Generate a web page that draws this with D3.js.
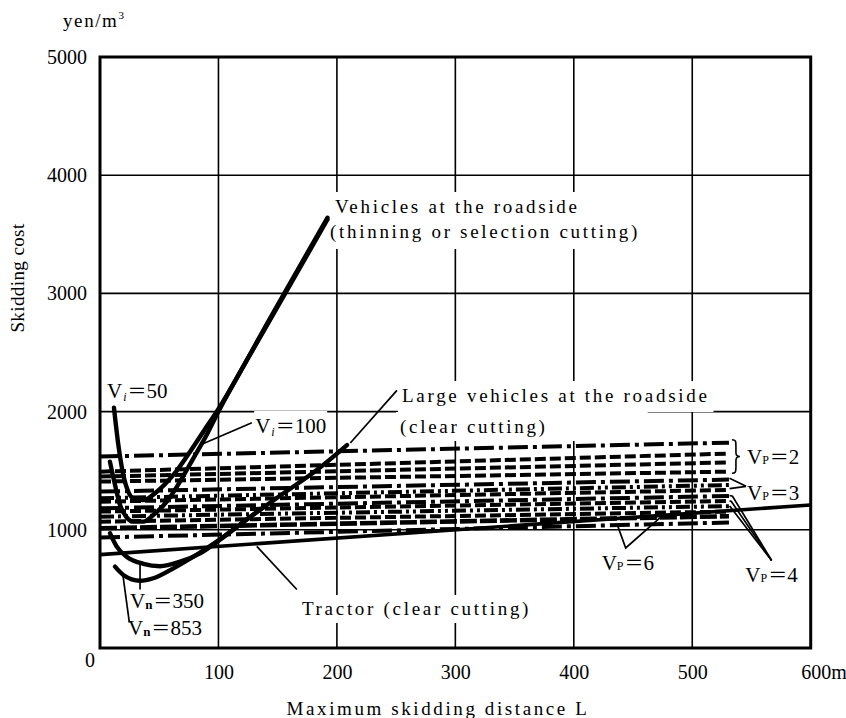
<!DOCTYPE html>
<html>
<head>
<meta charset="utf-8">
<script src="https://cdn.jsdelivr.net/npm/d3@7"></script>
<style>
  body { margin: 0; background: #fff; }
  svg { display: block; }
  text { font-family: "Liberation Serif", "DejaVu Serif", serif; fill: #000; }
</style>
</head>
<body>
<svg id="chart" width="846" height="718"></svg>
<script>
// ---- axes ----
const xDomain = [0, 600];              // maximum skidding distance L (m)
const yDomain = [0, 5000];             // skidding cost (yen/m3)
const xGrid = [100, 200, 300, 400, 500];
const yGrid = [1000, 2000, 3000, 4000];
const xTickValues = [100, 200, 300, 400, 500, 600];
const xTickLabels = ["100", "200", "300", "400", "500", "600m"];
const yTickValues = [1000, 2000, 3000, 4000, 5000];

// ---- vehicles at the roadside (thinning or selection cutting) ----
const vi50 = [[11.8, 2033], [15.5, 1717], [19.7, 1464], [23.9, 1322], [28.1, 1266], [36.6, 1252],
              [47.9, 1322], [61.9, 1464], [76, 1661], [87.2, 1830], [98.5, 1999], [145, 2815], [192, 3640]];
const vi100 = [[8.4, 1576], [12.7, 1379], [16.9, 1210], [21.1, 1125], [28.1, 1069], [36.6, 1069],
               [45, 1125], [56.3, 1238], [67.5, 1407], [78.8, 1605], [90, 1802], [98.5, 1971], [145, 2800], [192, 3625]];

// ---- large vehicles at the roadside (clear cutting) ----
const vn350 = [[8.5, 970], [14, 860], [22.5, 772], [36.6, 712], [50.7, 692], [67.6, 730], [84.5, 801],
               [101, 914], [127, 1111], [155, 1309], [183, 1506], [208.5, 1717]];
const vn853 = [[12.7, 688], [19.7, 618], [33.8, 569], [45, 590], [62, 674], [84.5, 808], [101, 918], [127, 1111], [140, 1205]];

// ---- tractor (clear cutting) ----
const tractor = [[0, 790], [600, 1210]];

// ---- cable / Vp lines: cost at L = 0 and at the end of the line ----
const vpEndL = 531;
const vpStart = [1620, 1492, 1450, 1408, 1323, 1267, 1238, 1182, 1154, 1111, 1069, 1013, 935];
const vpEnd   = [1737, 1645, 1570, 1492, 1425, 1379, 1337, 1286, 1244, 1200, 1154, 1115, 1062];
const vpLevel = [2, 2, 2, 2, 3, 3, 3, 4, 4, 4, 6, 6, 6];
const vpStyle = ["dashdot", "dash", "dash", "dash", "dashdot", "dashdotdot", "dash",
                 "dashdot", "dash", "dashdotdot", "dash", "longdash", "dashdot"];

// ---- leader lines (data units) ----
const leaders = [
  [[84.5, 1717], [128.2, 1905]],                 // Vi=100
  [[211.3, 1734], [250.7, 2180]],                // large vehicles
  [[132.4, 860], [166.2, 495]],                  // tractor
  [[33.8, 712], [33.8, 495]],                    // Vn=350
  [[19.4, 612], [24.8, 215]],                    // Vn=853
  [[437, 1035], [443.8, 846], [473.4, 1108]],    // Vp=6
  [[531.5, 1436], [545.4, 1368]],                // Vp=3
  [[531.5, 1348], [545.4, 1368]],
  [[531.5, 1290], [534, 1284], [567, 740]],      // Vp=4
  [[531.5, 1246], [533, 1240], [567, 740]],
  [[531.5, 1202], [532, 1196], [567, 740]]
];
const vp2Brace = { L: 533.5, top: 1762, bottom: 1478 };

const svg = d3.select("#chart");
const x = d3.scaleLinear().domain(xDomain).range([100, 810.7]);
const y = d3.scaleLinear().domain(yDomain).range([648, 57]);

const dashes = {
  dash: "11,4",
  longdash: "17,3",
  dashdot: "20,5,4,5",
  dashdotdot: "14,4,3,4,3,4"
};

// grid
const grid = svg.append("g").attr("stroke", "#000").attr("stroke-width", 1.6);
grid.selectAll("line.gx").data(xGrid).join("line")
  .attr("x1", d => x(d)).attr("x2", d => x(d))
  .attr("y1", y(0)).attr("y2", y(5000));
grid.selectAll("line.gy").data(yGrid).join("line")
  .attr("y1", d => y(d)).attr("y2", d => y(d))
  .attr("x1", x(0)).attr("x2", x(600));

// label backgrounds sit above the grid, below the curves
const bgLayer = svg.append("g");
const markLayer = svg.append("g");
const textLayer = svg.append("g");

// Vp lines
markLayer.selectAll("line.vp").data(vpStart).join("line")
  .attr("x1", x(0)).attr("y1", d => y(d))
  .attr("x2", x(vpEndL)).attr("y2", (d, i) => y(vpEnd[i]))
  .attr("stroke", "#000")
  .attr("stroke-width", (d, i) => vpStyle[i] === "longdash" ? 4.6 : 4)
  .attr("stroke-dasharray", (d, i) => dashes[vpStyle[i]]);

// tractor
markLayer.append("path").datum(tractor)
  .attr("d", d3.line().x(d => x(d[0])).y(d => y(d[1])))
  .attr("fill", "none").attr("stroke", "#000").attr("stroke-width", 3.6);

// curves
const curve = d3.line().x(d => x(d[0])).y(d => y(d[1])).curve(d3.curveMonotoneX);
[vi50, vi100, vn350, vn853].forEach(s => {
  markLayer.append("path").datum(s).attr("d", curve)
    .attr("fill", "none").attr("stroke", "#000").attr("stroke-width", 4.4)
    .attr("stroke-linecap", "round");
});

// leaders
const straight = d3.line().x(d => x(d[0])).y(d => y(d[1]));
markLayer.selectAll("path.leader").data(leaders).join("path")
  .attr("d", straight).attr("fill", "none")
  .attr("stroke", "#000").attr("stroke-width", 1.7).attr("stroke-linejoin", "miter");

// brace for Vp = 2
{
  const bx = x(vp2Brace.L), t = y(vp2Brace.top), b = y(vp2Brace.bottom), m = (t + b) / 2;
  markLayer.append("path")
    .attr("d", `M${bx},${t} C${bx + 4},${t} ${bx + 4},${t + 2} ${bx + 4},${t + 6} L${bx + 4},${m - 4}
      C${bx + 4},${m - 1} ${bx + 6},${m} ${bx + 8},${m} C${bx + 6},${m} ${bx + 4},${m + 1} ${bx + 4},${m + 4}
      L${bx + 4},${b - 6} C${bx + 4},${b - 2} ${bx + 4},${b} ${bx},${b}`)
    .attr("fill", "none").attr("stroke", "#000").attr("stroke-width", 1.6);
}

// frame
svg.append("rect")
  .attr("x", x(0)).attr("y", y(5000))
  .attr("width", x(600) - x(0)).attr("height", y(0) - y(5000))
  .attr("fill", "none").attr("stroke", "#000").attr("stroke-width", 3);

// axis tick labels
const xAxis = svg.append("g").attr("transform", `translate(0,${y(0)})`)
  .call(d3.axisBottom(x).tickValues(xTickValues).tickSize(0).tickPadding(17)
    .tickFormat((d, i) => xTickLabels[i]));
xAxis.select(".domain").remove();
xAxis.selectAll("text").attr("font-size", 20).attr("font-family", "Liberation Serif")
  .filter(d => d === 600).attr("text-anchor", "start").attr("dx", -10);

const yAxis = svg.append("g").attr("transform", `translate(${x(0)},0)`)
  .call(d3.axisLeft(y).tickValues(yTickValues).tickSize(0).tickPadding(13).tickFormat(d3.format("d")));
yAxis.select(".domain").remove();
yAxis.selectAll("text").attr("font-size", 20).attr("font-family", "Liberation Serif");

svg.append("text").attr("x", 90).attr("y", 667).attr("text-anchor", "middle")
  .attr("font-size", 20).text("0");

// axis titles
svg.append("text").attr("x", 438).attr("y", 715).attr("text-anchor", "middle")
  .attr("font-size", 19).attr("letter-spacing", 2.6).text("Maximum skidding distance L");
svg.append("text").attr("transform", "translate(24,278) rotate(-90)").attr("text-anchor", "middle")
  .attr("font-size", 19).attr("letter-spacing", 0.4).text("Skidding cost");
{
  const u = svg.append("text").attr("x", 63).attr("y", 27).attr("font-size", 19).attr("letter-spacing", 1.6);
  u.append("tspan").text("yen/m");
  u.append("tspan").attr("font-size", 11).attr("dy", -8).text("3");
}

// plain text labels (data-unit anchors, left aligned at baseline)
function addBg(node, pad) {
  const bb = node.getBBox();
  bgLayer.append("rect")
    .attr("x", bb.x - pad.l).attr("y", bb.y - pad.t)
    .attr("width", bb.width + pad.l + pad.r).attr("height", bb.height + pad.t + pad.b)
    .attr("fill", "#fff");
}
const plainLabels = [
  { t: "Vehicles at the roadside", L: 198.4, c: 3680, pad: { l: 4, r: 4, t: 4, b: 6 } },
  { t: "(thinning or selection cutting)", L: 194.2, c: 3469, pad: { l: 4, r: 4, t: 2, b: 6 } },
  { t: "Large vehicles at the roadside", L: 255, c: 2081, pad: { l: 4, r: 4, t: 4, b: 6 } },
  { t: "(clear cutting)", L: 253.3, c: 1819, pad: { l: 4, r: 100, t: 4, b: 3 } },
  { t: "Tractor (clear cutting)", L: 170.5, c: 279, pad: { l: 3, r: 3, t: 3, b: 3 } }
];
plainLabels.forEach(p => {
  const n = textLayer.append("text").attr("x", x(p.L)).attr("y", y(p.c))
    .attr("font-size", 19).attr("letter-spacing", 2.7).text(p.t);
  addBg(n.node(), p.pad);
});

// V labels with subscripts
const vLabels = [
  { sub: "i", kind: "i", val: "50", L: 5.9, c: 2115 },
  { sub: "i", kind: "i", val: "100", L: 131, c: 1819 },
  { sub: "n", kind: "n", val: "350", L: 25.3, c: 338 },
  { sub: "n", kind: "n", val: "853", L: 23.6, c: 110 },
  { sub: "P", kind: "p", val: "2", L: 546.2, c: 1557 },
  { sub: "P", kind: "p", val: "3", L: 546.2, c: 1252 },
  { sub: "P", kind: "p", val: "4", L: 544.8, c: 558 },
  { sub: "P", kind: "p", val: "6", L: 423.5, c: 660 }
];
vLabels.forEach(v => {
  const n = textLayer.append("text").attr("x", x(v.L)).attr("y", y(v.c)).attr("font-size", 21);
  n.append("tspan").text("V");
  const s = n.append("tspan").text(v.sub);
  if (v.kind === "i") s.attr("font-size", 12).attr("font-style", "italic").attr("dy", 3).attr("dx", 1);
  if (v.kind === "n") s.attr("font-size", 13).attr("font-weight", "bold").attr("dy", 1);
  if (v.kind === "p") s.attr("font-size", 12).attr("dy", 0);
  n.append("tspan").attr("dy", v.kind === "i" ? -3 : (v.kind === "n" ? -1 : 0)).attr("dx", 1)
    .attr("font-family", "Noto Sans CJK JP").attr("font-size", 19).text("＝");
  n.append("tspan").text(v.val);
  addBg(n.node(), { l: 1, r: 1, t: 0, b: 0 });
});
</script>
</body>
</html>
